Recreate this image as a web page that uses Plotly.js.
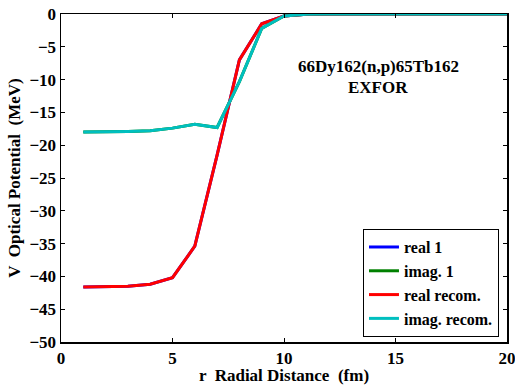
<!DOCTYPE html>
<html><head><meta charset="utf-8">
<script src="https://cdn.plot.ly/plotly-3.0.1.min.js"></script>
<style>body{margin:0;padding:0;background:#fff}#c{width:515px;height:385px}</style>
</head><body><div id="c"></div>
<script>
const r = [1,2,3,4,5,6,7,8,9,10,11,12,13,14,15,16,17,18,19,20];
const real1 = [-41.6,-41.6,-41.5,-41.2,-40.2,-35.4,-21.5,-7.0,-1.5,-0.3,-0.05,0,0,0,0,0,0,0,0,0];
const imag1 = [-18.0,-18.0,-17.9,-17.8,-17.4,-16.8,-17.3,-10.3,-2.2,-0.3,-0.05,0,0,0,0,0,0,0,0,0];
const realRecom = real1.slice();
const imagRecom = imag1.slice();
const names = ['real 1','imag. 1','real recom.','imag. recom.'];
const colors = ['#0000ff','#008000','#ff0000','#00bfbf'];
const series = [real1, imag1, realRecom, imagRecom];
const fam = 'Liberation Serif, Times New Roman, serif';
const traces = series.map((s,i)=>({x:r,y:s,type:'scatter',mode:'lines',name:'<b>'+names[i]+'</b>',line:{color:colors[i],width:3}}));
const ax = {showgrid:false,zeroline:false,showline:true,linecolor:'#000',linewidth:1.5,mirror:'ticks',ticks:'inside',ticklen:4,tickcolor:'#000',ticklabeloverflow:'allow',tickfont:{family:fam,size:17,color:'#000',weight:'bold'}};
const layout = {
  width:515,height:385,margin:{l:61,r:8,t:14,b:43},
  paper_bgcolor:'#fff',plot_bgcolor:'#fff',font:{family:fam,size:17,color:'#000'},
  xaxis:Object.assign({},ax,{range:[0,20],tickvals:[0,5,10,15,20],title:{text:'<b>r  Radial Distance  (fm)</b>',font:{family:fam,size:17},standoff:2}}),
  yaxis:Object.assign({},ax,{range:[-50,0],tickvals:[0,-5,-10,-15,-20,-25,-30,-35,-40,-45,-50],title:{text:'<b>V  Optical Potential  (MeV)</b>',font:{family:fam,size:17},standoff:4}}),
  showlegend:true,
  legend:{x:0.982,y:0.015,xanchor:'right',yanchor:'bottom',bgcolor:'#fff',bordercolor:'#000',borderwidth:1,font:{family:fam,size:16,color:'#000'},tracegroupgap:0,itemwidth:30},
  annotations:[
    {xref:'paper',yref:'paper',x:0.711,y:0.841,xanchor:'center',yanchor:'middle',showarrow:false,text:'<b>66Dy162(n,p)65Tb162</b>',font:{family:fam,size:17,color:'#000'}},
    {xref:'paper',yref:'paper',x:0.711,y:0.776,xanchor:'center',yanchor:'middle',showarrow:false,text:'<b>EXFOR</b>',font:{family:fam,size:17,color:'#000'}}
  ]
};
Plotly.newPlot('c',traces,layout,{displayModeBar:false,staticPlot:true});
</script></body></html>
